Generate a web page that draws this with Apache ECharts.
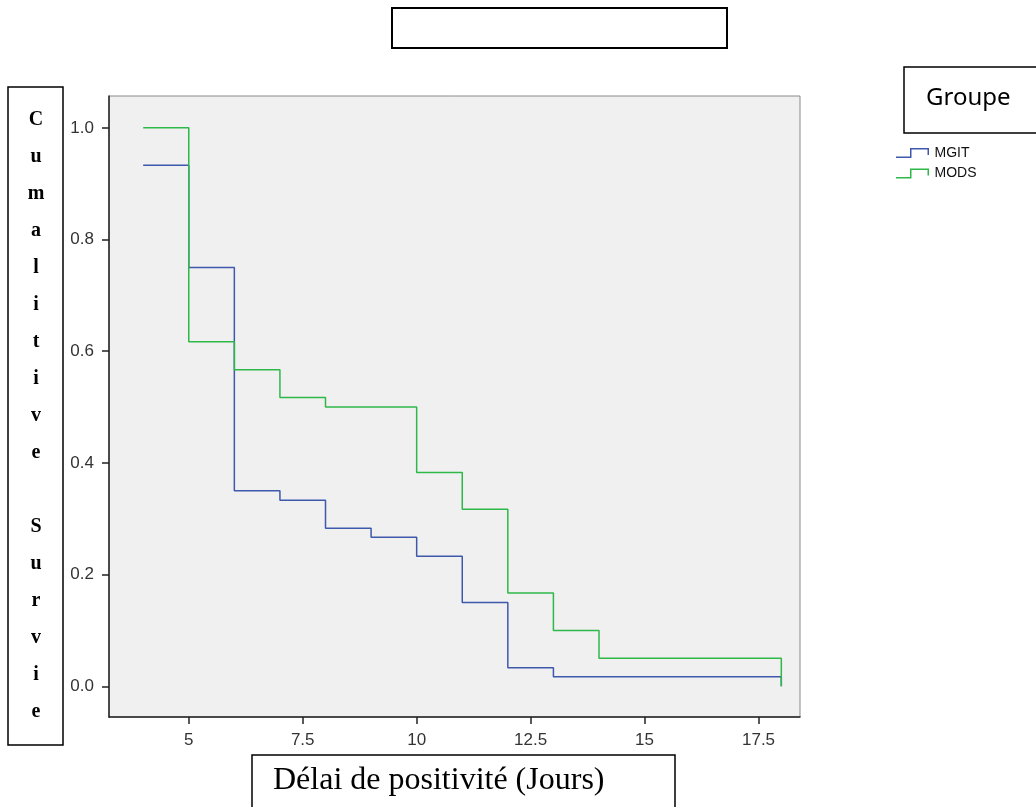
<!DOCTYPE html>
<html>
<head>
<meta charset="utf-8">
<script src="https://cdn.jsdelivr.net/npm/echarts@6/dist/echarts.min.js"></script>
<style>
html, body { margin: 0; padding: 0; background: #fff; }
#main { width: 1036px; height: 807px; }
</style>
</head>
<body>
<div id="main"></div>
<script>
// survival steps
var mgitDays = [4, 5, 6, 7, 8, 9, 10, 11, 12, 13, 18];
var mgitSurv = [0.933, 0.75, 0.35, 0.333, 0.283, 0.267, 0.233, 0.15, 0.033, 0.017, 0];
var modsDays = [4, 5, 6, 7, 8, 10, 11, 12, 13, 14, 18];
var modsSurv = [1, 0.617, 0.567, 0.517, 0.5, 0.383, 0.317, 0.167, 0.1, 0.05, 0];
var xTicks = [5, 7.5, 10, 12.5, 15, 17.5];
var yTicks = [0, 0.2, 0.4, 0.6, 0.8, 1.0];
var groupNames = ['MGIT', 'MODS'];

function pairs(xs, ys) {
    var out = [];
    for (var i = 0; i < xs.length; i++) out.push([xs[i], ys[i]]);
    return out;
}

// petite marche pour la légende (forme pleine, ~1.5px d'épaisseur)
var stepIcon = 'path://M0,8.5 L14,8.5 L14,0 L33,0 L33,7 L31.5,7 L31.5,1.5 L15.5,1.5 L15.5,10 L0,10 Z';

var chart = echarts.init(document.getElementById('main'));
var option = {
    backgroundColor: '#fff',
    animation: false,
    grid: {
        left: 109, top: 96, right: 236, bottom: 90,
        show: true,
        backgroundColor: '#f0f0f0',
        borderColor: '#8a8a8a',
        borderWidth: 1
    },
    legend: {
        orient: 'vertical',
        left: 896,
        top: 146,
        padding: 0,
        itemWidth: 34,
        itemHeight: 10,
        itemGap: 6.5,
        data: [
            { name: groupNames[0], icon: stepIcon, itemStyle: { color: '#3e58ac' } },
            { name: groupNames[1], icon: stepIcon, itemStyle: { color: '#2eb848' } }
        ],
        textStyle: { fontFamily: 'Liberation Sans', fontSize: 14, color: '#111' }
    },
    xAxis: {
        type: 'value',
        min: 3.25,
        max: 18.41,
        splitLine: { show: false },
        axisLine: { show: true, onZero: false, lineStyle: { color: '#222', width: 1.5 } },
        axisTick: { show: true, length: 7, customValues: xTicks, lineStyle: { color: '#222', width: 1.5 } },
        axisLabel: {
            customValues: xTicks,
            margin: 15,
            fontFamily: 'Liberation Sans',
            fontSize: 17,
            color: '#333'
        }
    },
    yAxis: {
        type: 'value',
        min: -0.055,
        max: 1.057,
        splitLine: { show: false },
        axisLine: { show: true, onZero: false, lineStyle: { color: '#222', width: 1.5 } },
        axisTick: { show: true, length: 7, customValues: yTicks, lineStyle: { color: '#222', width: 1.5 } },
        axisLabel: {
            customValues: yTicks,
            margin: 15,
            fontFamily: 'Liberation Sans',
            fontSize: 17,
            color: '#333',
            formatter: function (v) { return v.toFixed(1); }
        }
    },
    series: [{
        name: groupNames[0],
        type: 'line',
        step: 'end',
        showSymbol: false,
        lineStyle: { color: '#3e58ac', width: 1.5 },
        itemStyle: { color: '#3e58ac' },
        data: pairs(mgitDays, mgitSurv)
    }, {
        name: groupNames[1],
        type: 'line',
        step: 'end',
        showSymbol: false,
        lineStyle: { color: '#2eb848', width: 1.5 },
        itemStyle: { color: '#2eb848' },
        data: pairs(modsDays, modsSurv)
    }],
    graphic: [
        // cadre vide du titre
        { type: 'rect', shape: { x: 392, y: 8, width: 335, height: 40 },
          style: { fill: '#fff', stroke: '#000', lineWidth: 2 } },
        // cadre "Groupe"
        { type: 'rect', shape: { x: 904, y: 67, width: 140, height: 66 },
          style: { fill: '#fff', stroke: '#000', lineWidth: 1.5 } },
        { type: 'text', left: 926, top: 86,
          style: { text: 'Groupe', fontFamily: 'Noto Sans', fontSize: 24, fill: '#000' } },
        // titre de l'axe Y
        { type: 'rect', shape: { x: 8, y: 87, width: 55, height: 658 },
          style: { fill: '#fff', stroke: '#000', lineWidth: 1.5 } },
        { type: 'text', x: 36, y: 101,
          style: {
              text: 'C\nu\nm\na\nl\ni\nt\ni\nv\ne\n\nS\nu\nr\nv\ni\ne',
              fontFamily: 'Liberation Serif', fontWeight: 'bold', fontSize: 20,
              lineHeight: 37, align: 'center', fill: '#000'
          } },
        // titre de l'axe X
        { type: 'rect', shape: { x: 252, y: 755, width: 423, height: 70 },
          style: { fill: '#fff', stroke: '#000', lineWidth: 1.5 } },
        { type: 'text', left: 273, top: 765,
          style: { text: 'Délai de positivité (Jours)', fontFamily: 'Liberation Serif', fontSize: 32, fill: '#000' } }
    ]
};
chart.setOption(option);
</script>
</body>
</html>
